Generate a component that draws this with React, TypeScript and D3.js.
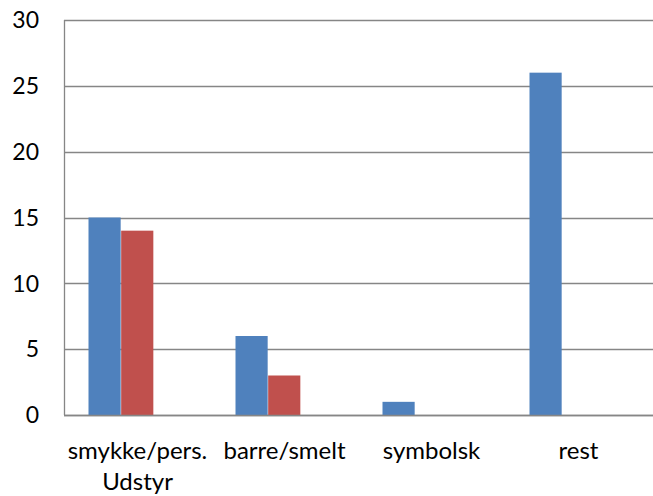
import React, { useEffect, useRef } from "react";
import * as d3 from "d3";

const categories = ["smykke/pers. Udstyr", "barre/smelt", "symbolsk", "rest"];
const series1 = [15, 6, 1, 26];
const series2 = [14, 3, 0, 0];
const series3 = [0, 0, 0, 0];
const yTicks = [0, 5, 10, 15, 20, 25, 30];
const colors = ["#4F81BD", "#C0504D", "#9BBB59"];

const W = 653;
const H = 496;
const FONT = "Lato, 'Open Sans', sans-serif";

export default function App() {
  const ref = useRef<SVGSVGElement | null>(null);

  useEffect(() => {
    const svg = d3.select(ref.current);
    svg.selectAll("*").remove();
    const left = 64, right = 652, top = 20, bottom = 415;

    const x = d3.scaleBand<string>().domain(categories).range([left, right]).paddingInner(0).paddingOuter(0);
    const y = d3.scaleLinear().domain([0, 30]).range([bottom, top]);
    const allSeries = [series1, series2, series3];
    const bw = x.bandwidth();
    const barW = bw / (allSeries.length + 1.5);
    const groupW = barW * allSeries.length;

    // gridlines
    svg.append("g").selectAll("line").data(yTicks).join("line")
      .attr("x1", left).attr("x2", W)
      .attr("y1", d => Math.round(y(d)) + 0.5).attr("y2", d => Math.round(y(d)) + 0.5)
      .attr("stroke", "#868686").attr("stroke-width", 1.3);

    // bars
    allSeries.forEach((s, si) => {
      svg.append("g").selectAll("rect").data(s).join("rect")
        .attr("x", (_, i) => (x(categories[i]) as number) + (bw - groupW) / 2 + si * barW)
        .attr("width", barW - 0.5)
        .attr("y", d => y(d))
        .attr("height", d => bottom - y(d))
        .attr("fill", colors[si]);
    });

    // axis lines
    svg.append("line").attr("x1", left + 0.5).attr("x2", left + 0.5).attr("y1", top).attr("y2", bottom)
      .attr("stroke", "#868686").attr("stroke-width", 1.3);
    svg.append("line").attr("x1", left).attr("x2", W).attr("y1", Math.round(y(0)) + 0.5).attr("y2", Math.round(y(0)) + 0.5)
      .attr("stroke", "#868686").attr("stroke-width", 1.3);

    // y labels
    svg.append("g").selectAll("text").data(yTicks).join("text")
      .attr("x", 39).attr("y", d => y(d)).attr("dy", "0.36em")
      .attr("text-anchor", "end").attr("font-family", FONT).attr("font-size", 23)
      .attr("fill", "#000").text(d => String(d));

    // x labels with wrap
    const maxW = bw + 10;
    categories.forEach(c => {
      const cx = (x(c) as number) + bw / 2;
      const t = svg.append("text").attr("text-anchor", "middle").attr("font-family", FONT)
        .attr("font-size", 24).attr("fill", "#000");
      const words = c.split(" ");
      const lines: string[] = [];
      let cur = "";
      const probe = t.append("tspan");
      words.forEach(w => {
        const test = cur ? cur + " " + w : w;
        probe.text(test);
        const len = (probe.node() as SVGTSpanElement).getComputedTextLength();
        if (len > maxW && cur) {
          lines.push(cur);
          cur = w;
        } else cur = test;
      });
      if (cur) lines.push(cur);
      probe.remove();
      lines.forEach((l, li) => {
        t.append("tspan").attr("x", cx).attr("y", 459 + li * 31).text(l);
      });
    });
  }, []);

  return <svg ref={ref} width={W} height={H} style={{ display: "block", position: "absolute", left: 0, top: 0 }} />;
}
